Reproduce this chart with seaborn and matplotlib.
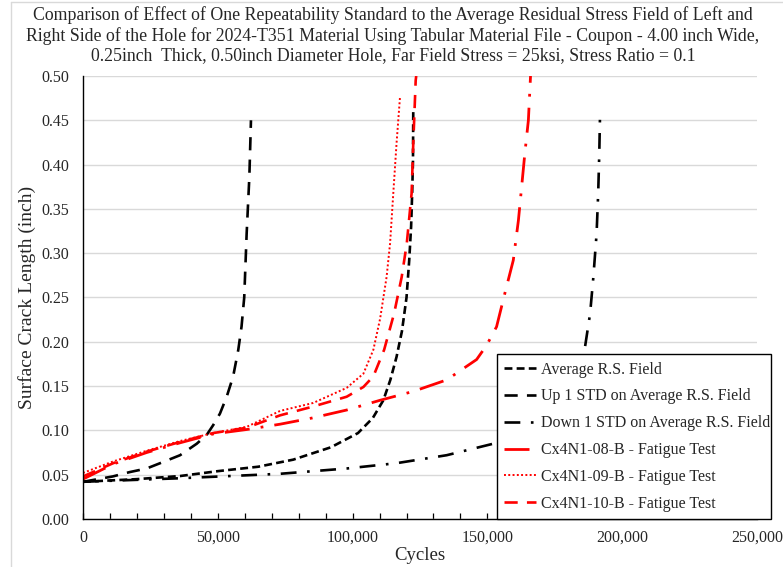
import matplotlib
matplotlib.use("Agg")
import matplotlib.pyplot as plt
from matplotlib.lines import Line2D
from matplotlib.ticker import MultipleLocator, FuncFormatter
import seaborn as sns
import pandas as pd

# ---------------- data ----------------
avg_cycles = [0, 20000, 36000, 50000, 65000, 78000, 92000, 102000, 107500, 111400,
              114000, 116300, 118300, 120000, 121000, 121700, 122100, 122400, 122500]
avg_len = [0.042, 0.045, 0.0485, 0.054, 0.059, 0.067, 0.081, 0.097, 0.114, 0.134,
           0.157, 0.183, 0.212, 0.250, 0.292, 0.330, 0.368, 0.405, 0.462]

up_cycles = [0, 11000, 17400, 23600, 28600, 36000, 42200, 45900, 48300, 50800,
             53300, 55700, 57600, 58800, 59800, 60700, 61700, 62300]
up_len = [0.042, 0.048, 0.053, 0.057, 0.063, 0.072, 0.085, 0.095, 0.106, 0.119,
          0.138, 0.161, 0.191, 0.217, 0.250, 0.322, 0.386, 0.450]

down_cycles = [0, 36000, 73000, 97800, 116300, 134900, 152200, 165000, 175000, 182000,
               186200, 188100, 189300, 190500, 191100, 191500, 191800]
down_len = [0.042, 0.046, 0.051, 0.057, 0.063, 0.072, 0.085, 0.102, 0.125, 0.158,
            0.194, 0.232, 0.273, 0.322, 0.368, 0.413, 0.460]

t08_cycles = [0, 11200, 23600, 36000, 48300, 60700, 73100, 85000, 97800, 110200,
              122500, 134900, 146000, 149700, 153400, 156500, 159600, 161500, 162700,
              163900, 165200, 166000]
t08_len = [0.045, 0.062, 0.075, 0.086, 0.096, 0.101, 0.107, 0.114, 0.123, 0.134,
           0.144, 0.157, 0.180, 0.196, 0.217, 0.255, 0.292, 0.337, 0.375,
           0.413, 0.450, 0.500]

t09_cycles = [0, 11200, 23600, 36000, 48300, 60700, 73100, 85400, 97800, 104000,
              107700, 110200, 112600, 113900, 115100, 116300, 117600]
t09_len = [0.052, 0.065, 0.077, 0.088, 0.097, 0.104, 0.122, 0.131, 0.148, 0.164,
           0.191, 0.226, 0.273, 0.311, 0.368, 0.424, 0.477]

t10_cycles = [0, 11200, 23600, 36000, 48300, 60700, 73100, 85400, 97800, 104000,
              107700, 111700, 115400, 118200, 120100, 121900, 122500, 123400, 123600]
t10_len = [0.048, 0.063, 0.076, 0.087, 0.097, 0.103, 0.117, 0.127, 0.138, 0.149,
           0.161, 0.191, 0.232, 0.273, 0.311, 0.368, 0.424, 0.495, 0.500]

series_names = ["Average R.S. Field",
                "Up 1 STD on Average R.S. Field",
                "Down 1 STD on Average R.S. Field",
                "Cx4N1-08-B - Fatigue Test",
                "Cx4N1-09-B - Fatigue Test",
                "Cx4N1-10-B - Fatigue Test"]

title_text = ("Comparison of Effect of One Repeatability Standard to the Average Residual Stress Field of Left and\n"
              "Right Side of the Hole for 2024-T351 Material Using Tabular Material File - Coupon - 4.00 inch Wide,\n"
              "0.25inch  Thick, 0.50inch Diameter Hole, Far Field Stress = 25ksi, Stress Ratio = 0.1")

# ---------------- build long table ----------------
frames = []
for name, xs, ys in zip(series_names,
                        [avg_cycles, up_cycles, down_cycles, t08_cycles, t09_cycles, t10_cycles],
                        [avg_len, up_len, down_len, t08_len, t09_len, t10_len]):
    frames.append(pd.DataFrame({"Cycles": xs, "Length": ys, "Series": name}))
df = pd.concat(frames, ignore_index=True)

styles = {
    series_names[0]: dict(color="black", linestyle=(0, (3, 1.6)), lw=1.9),
    series_names[1]: dict(color="black", linestyle=(0, (5, 3.5)), lw=1.9),
    series_names[2]: dict(color="black", linestyle=(0, (6, 4, 1, 4)), lw=1.9),
    series_names[3]: dict(color="#ff0000", linestyle=(0, (9, 4, 1, 4)), lw=2.0),
    series_names[4]: dict(color="#ff0000", linestyle=(0, (1, 1.2)), lw=1.4),
    series_names[5]: dict(color="#ff0000", linestyle=(0, (5, 3.5)), lw=1.9),
}

# ---------------- plot ----------------
sns.set_theme(style="white")
plt.rcParams["font.family"] = ["Liberation Serif", "DejaVu Serif"]

fig = plt.figure(figsize=(7.83, 5.67), dpi=100)
ax = fig.add_axes([83 / 783, 1 - 519 / 567, (757 - 83) / 783, (519 - 76) / 567])

for name in series_names:
    sub = df[df["Series"] == name]
    sns.lineplot(data=sub, x="Cycles", y="Length", ax=ax, sort=False,
                 estimator=None, label=name, **styles[name])

ax.set_xlim(0, 250000)
ax.set_ylim(0, 0.5)
ax.xaxis.set_major_locator(MultipleLocator(50000))
ax.xaxis.set_minor_locator(MultipleLocator(10000))
ax.yaxis.set_major_locator(MultipleLocator(0.05))
ax.xaxis.set_major_formatter(FuncFormatter(lambda v, p: f"{int(v):,}"))
ax.yaxis.set_major_formatter(FuncFormatter(lambda v, p: f"{v:.2f}"))

ax.grid(axis="y", color="#d9d9d9", lw=1.0)
ax.grid(axis="x", visible=False)
ax.set_axisbelow(True)
for s in ["top", "right"]:
    ax.spines[s].set_visible(False)
for s in ["left", "bottom"]:
    ax.spines[s].set_visible(True)
    ax.spines[s].set_color("black")
    ax.spines[s].set_linewidth(1.0)

ax.tick_params(axis="x", which="both", direction="in", length=4, width=0.9,
               color="black", labelsize=11.5, pad=8, bottom=True)
ax.tick_params(axis="y", which="both", length=0, labelsize=11.5, pad=10)

ax.set_xlabel("Cycles", fontsize=13.5, labelpad=1)
ax.set_ylabel("Surface Crack Length (inch)", fontsize=14, labelpad=4)

fig.suptitle(title_text, x=393 / 783, y=1 - 6 / 567, va="top", fontsize=12.8,
             linespacing=1.2)

leg = ax.legend(loc="lower left", bbox_to_anchor=(0.614, 0.0, 0.407, 0.375),
                mode="expand", frameon=True, fancybox=False, fontsize=11.5,
                handlelength=2.0, handletextpad=0.3, labelspacing=0.68,
                borderpad=0.45, borderaxespad=0.0)
leg.get_frame().set_edgecolor("black")
leg.get_frame().set_linewidth(1.0)
leg.get_frame().set_alpha(1.0)

# chart-area border (light grey)
fig.add_artist(Line2D([11 / 783, 11 / 783], [0, 1 - 2 / 567], transform=fig.transFigure,
                      color="#d9d9d9", lw=1.0))
fig.add_artist(Line2D([11 / 783, 1], [1 - 2 / 567, 1 - 2 / 567], transform=fig.transFigure,
                      color="#d9d9d9", lw=1.0))

fig.savefig("out.png", dpi=100)
